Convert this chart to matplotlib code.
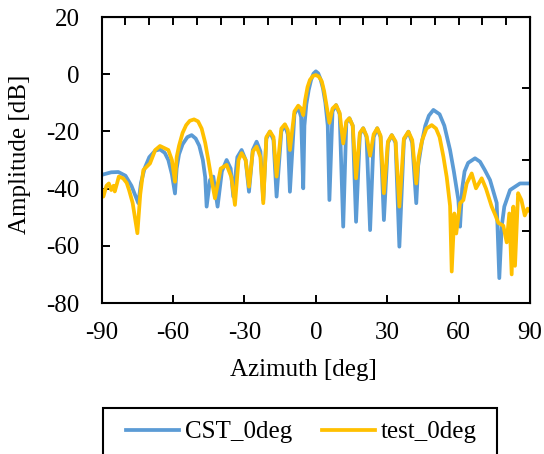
import numpy as np
import matplotlib
matplotlib.use('Agg')
import matplotlib.pyplot as plt
from matplotlib.patches import Rectangle

# CST simulated pattern (azimuth deg, amplitude dB)
cst_az = [-90, -86, -83, -80, -77.5, -74.6, -73.5, -72, -70, -67.5, -65.5, -63.5, -62,
          -60.5, -59.2, -58.5, -57.5, -56, -54, -52.2, -50.5, -49, -47.5, -46.5, -45.9,
          -44.5, -43.1, -41.3, -39.5, -37.5, -35.8, -34.7, -33, -31.2, -29.5, -28.1,
          -26.5, -24.9, -23.3, -22.1, -20.8, -19.3, -17.8, -16.5, -14.5, -13, -11.8,
          -10.9, -9, -7.4, -6.2, -5.3, -4.8, -4, -3, -2, -1, 0, 1, 2, 3, 4, 5, 5.7, 7,
          8.5, 10, 11.5, 12.8, 14.1, 15.5, 16.9, 18.5, 19.9, 21.3, 22.8, 24.3, 25.8,
          27.2, 28.6, 30.3, 31.9, 33.5, 35.1, 37, 38.9, 40.5, 42.2, 43, 44.5, 46, 47.5,
          49.4, 52, 54, 56.4, 58, 59.9, 60.6, 61.5, 62.5, 64, 66.9, 69, 71, 73.2, 76,
          77.1, 78.1, 79.2, 81.6, 85.8, 90]
cst_db = [-35.2, -34.3, -34.2, -35.5, -39, -45.1, -38, -33, -29, -26.7, -26.3, -27.5,
          -30, -35, -41.7, -33, -28, -24.5, -22, -21.3, -22.5, -25, -30, -36, -46.3, -37,
          -35.8, -46.3, -34, -30, -33, -42.8, -29, -26.5, -30, -41.1, -26.5, -23.6, -27,
          -44, -22.5, -20.1, -23, -42.8, -20, -17.8, -21, -41.1, -14, -11.4, -15, -39.9,
          -18, -10.5, -5.5, -2, 0.2, 1.0, 0.3, -1.8, -5, -10, -18, -44, -13, -10.8, -14,
          -53.3, -17, -15.4, -18, -51.6, -21, -18.9, -22, -54.5, -22, -18.9, -22, -51,
          -24, -21.3, -24, -60.3, -23, -20.1, -24, -45.1, -32, -24, -18, -14.5, -12.5,
          -14, -18, -26.5, -34, -44, -53.3, -40, -34, -31, -29.4, -30.6, -33.5, -37, -45,
          -71.3, -53.3, -46.3, -40.5, -38.2, -38.2]

# measured pattern
test_az = [-90, -89.3, -88, -87, -86, -85, -84.5, -83.5, -82.8, -81, -79.5, -78.5, -77,
           -75, -73.8, -72.5, -69.7, -67.5, -65.5, -62, -60.5, -59.2, -58.5, -57.5, -56,
           -54.5, -53, -51.2, -49.5, -48, -46.5, -45.2, -44, -42.4, -40, -37.5, -35.5,
           -34, -32.5, -31.2, -29.5, -28.1, -26.5, -24.9, -23.3, -22.1, -20.8, -19.3,
           -17.8, -16.5, -14.5, -13, -11.8, -10.9, -9, -7.4, -6.2, -5.3, -4.5, -3.5,
           -2.5, -1.2, 0, 1.2, 2.5, 3.5, 4.5, 5.7, 7, 8.5, 10, 11.5, 12.8, 14.1, 15.5,
           16.9, 18.5, 19.9, 21.3, 22.8, 24.3, 25.8, 27.2, 28.6, 30.3, 31.9, 33.5, 35.1,
           37, 38.9, 40.5, 42.2, 43.2, 44.7, 46.5, 48.7, 50.5, 52, 53.6, 55, 56.4, 57.1,
           58.2, 59, 60.6, 62, 63.4, 65.5, 67.3, 69.7, 71.5, 73.9, 75.3, 76.7, 78.8,
           80.2, 81.3, 82.3, 83, 83.7, 85, 86.4, 87.8, 89, 90]
test_db = [-40.5, -42.8, -39, -38.2, -40.5, -39, -41, -38, -35.8, -36.4, -38, -40.5, -45,
           -55.6, -42, -33.5, -31.2, -26.5, -25.1, -26.5, -30, -37.6, -29, -25, -20.5,
           -17.8, -16.3, -15.8, -16.5, -19, -24, -30, -36, -43.4, -33, -31.7, -36, -45.7,
           -30, -27.6, -30, -39.3, -27, -25.3, -29, -45.1, -22, -20, -22, -35.8, -19,
           -17.5, -19.5, -26.5, -13, -11, -12, -14.3, -9, -4.5, -2, -0.6, -0.3, -0.8,
           -2.5, -6, -11, -17, -12, -10.8, -13.5, -24.2, -16.5, -15.4, -18, -36.4, -20.5,
           -18.9, -21.5, -28.5, -21, -18.9, -21.5, -41.6, -23.5, -21.3, -23.5, -46.3,
           -22.5, -20.1, -23, -38.2, -29, -23, -19, -17.8, -19, -22, -28.8, -36, -46,
           -69, -48.7, -55.7, -45.1, -44, -38.2, -34.7, -39.9, -36.4, -40, -46.3, -49,
           -52, -53, -58.8, -48.7, -70, -46.3, -67, -41.6, -44, -49.4, -47, -48]

xticks = [-90, -60, -30, 0, 30, 60, 90]
yticks = [-80, -60, -40, -20, 0, 20]

plt.rcParams['font.family'] = ['Liberation Serif', 'DejaVu Serif']
plt.rcParams['axes.unicode_minus'] = False

W, H = 544, 454
fig = plt.figure(figsize=(W / 100, H / 100), dpi=100)
ax = fig.add_axes([101.7 / W, 1 - 303 / H, 428.3 / W, 286 / H])

ax.plot(cst_az, cst_db, color='#5B9BD5', lw=2.7, label='CST_0deg', solid_joinstyle='round')
ax.plot(test_az, test_db, color='#FFC000', lw=2.7, label='test_0deg', solid_joinstyle='round')

ax.set_xlim(-90, 90)
ax.set_ylim(-80, 20)
ax.set_xticks(xticks)
ax.set_yticks(yticks)
ax.tick_params(direction='in', length=5.5, width=1.4, labelsize=18, color='black')
ax.tick_params(axis='y', pad=16)
ax.tick_params(axis='x', pad=14)
for s in ax.spines.values():
    s.set_linewidth(1.5)
    s.set_color('black')

# extra tick marks on top and right edges
top = ax.secondary_xaxis('top')
top.set_xticks(np.arange(-80, 81, 10))
top.tick_params(direction='in', length=5.5, width=1.4, labeltop=False)
right = ax.secondary_yaxis('right', functions=(lambda y: (y + 80) / 100, lambda f: f * 100 - 80))
right.set_yticks([0.25, 0.5, 0.75])
right.tick_params(direction='in', length=5.5, width=1.4, labelright=False)

ax.set_xlabel('Azimuth [deg]', fontsize=18)
ax.xaxis.set_label_coords(0.472, -0.196)
ax.set_ylabel('Amplitude [dB]', fontsize=18)
ax.yaxis.set_label_coords(-0.165, 0.521)

handles, labels = ax.get_legend_handles_labels()
fig.legend(handles, labels, loc='center', bbox_to_anchor=(301.5 / W, 1 - 432 / H),
           ncol=2, frameon=False, fontsize=18, handlelength=2.1, handletextpad=0.25,
           columnspacing=1.2)
fig.patches.append(Rectangle((103 / W, 1 - 462 / H), 394 / W, 54 / H,
                             transform=fig.transFigure, fill=False, lw=1.5,
                             edgecolor='black', clip_on=False))

fig.savefig('out.png', dpi=100)
